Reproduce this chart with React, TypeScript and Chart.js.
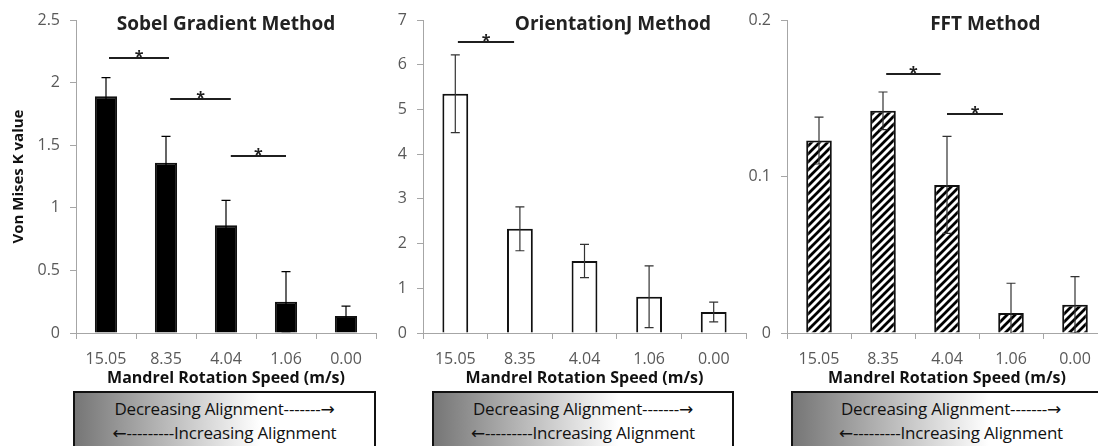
import React, { useEffect, useRef } from 'react';
import { Chart, registerables } from 'chart.js';

Chart.register(...registerables);

// ---------- data ----------
const categories = ['15.05', '8.35', '4.04', '1.06', '0.00'];

const sobelValues = [1.89, 1.36, 0.86, 0.25, 0.135];
const sobelErrors = [0.15, 0.21, 0.2, 0.24, 0.08];
const sobelTicks = [0, 0.5, 1, 1.5, 2, 2.5];
const sobelSigFrom = [0.05, 1.07, 2.08];
const sobelSigTo = [1.05, 2.08, 3.0];
const sobelSigY = [2.2, 1.87, 1.41];

const orientValues = [5.35, 2.33, 1.61, 0.81, 0.47];
const orientErrors = [0.87, 0.49, 0.37, 0.69, 0.22];
const orientTicks = [0, 1, 2, 3, 4, 5, 6, 7];
const orientSigFrom = [0.04];
const orientSigTo = [0.91];
const orientSigY = [6.51];

const fftValues = [0.123, 0.142, 0.0946, 0.0128, 0.018];
const fftErrors = [0.015, 0.012, 0.031, 0.019, 0.018];
const fftTicks = [0, 0.1, 0.2];
const fftSigFrom = [1.05, 2.0];
const fftSigTo = [1.9, 2.875];
const fftSigY = [0.1655, 0.14];

const panelTitles = ['Sobel Gradient Method', 'OrientationJ Method', 'FFT Method'];
const xAxisTitle = 'Mandrel Rotation Speed (m/s)';
const yAxisTitle = 'Von Mises K value';
const boxLine1Text = 'Decreasing Alignment-------';
const boxLine1Arrow = '→';
const boxLine2Arrow = '←';
const boxLine2Text = '---------Increasing Alignment';

// ---------- styles ----------
const FONT = "'Open Sans', 'Liberation Sans', sans-serif";
const AXIS = '#a6a6a6';
const TICK = '#595959';
const DARK = '#1f1f1f';

Chart.defaults.font.family = FONT;

function makeHatch(): CanvasPattern | string {
  const s = 8;
  const c = document.createElement('canvas');
  c.width = s;
  c.height = s;
  const g = c.getContext('2d');
  if (!g) return '#888';
  g.fillStyle = '#fff';
  g.fillRect(0, 0, s, s);
  g.strokeStyle = '#000';
  g.lineWidth = 2.8;
  g.beginPath();
  g.moveTo(-1, s + 1);
  g.lineTo(s + 1, -1);
  g.moveTo(-s / 2 - 1, s / 2 + 1);
  g.lineTo(s / 2 + 1, -s / 2 - 1);
  g.moveTo(s / 2 - 1, s * 1.5 + 1);
  g.lineTo(s * 1.5 + 1, s / 2 - 1);
  g.stroke();
  return g.createPattern(c, 'repeat') || '#888';
}

type PanelSpec = {
  left: number;
  width: number;
  yWidth: number;
  padRight: number;
  values: number[];
  errors: number[];
  ticks: number[];
  sigFrom: number[];
  sigTo: number[];
  sigY: number[];
  title: string;
  titleFrac: number;
  fill: 'black' | 'white' | 'hatch';
  barPct: number;
  yTitle?: string;
};

const CANVAS_H = 392;

function decorPlugin(spec: PanelSpec) {
  return {
    id: 'panelDecor',
    afterDatasetsDraw(chart: any) {
      const ctx: CanvasRenderingContext2D = chart.ctx;
      const area = chart.chartArea;
      const xs = chart.scales.x;
      const ys = chart.scales.y;
      ctx.save();
      ctx.beginPath();
      ctx.rect(area.left, area.top - 30, area.right - area.left, area.bottom - area.top + 30);
      ctx.clip();
      ctx.strokeStyle = spec.fill === 'black' ? '#000' : '#333';
      ctx.lineWidth = 1.2;
      spec.values.forEach((v, i) => {
        const e = spec.errors[i];
        const x = xs.getPixelForValue(i);
        const yTop = ys.getPixelForValue(v + e);
        const yBot = ys.getPixelForValue(v - e);
        ctx.beginPath();
        ctx.moveTo(x, yTop);
        ctx.lineTo(x, yBot);
        ctx.moveTo(x - 4.5, yTop);
        ctx.lineTo(x + 4.5, yTop);
        ctx.moveTo(x - 4.5, yBot);
        ctx.lineTo(x + 4.5, yBot);
        ctx.stroke();
      });
      ctx.restore();
    },
    afterDraw(chart: any) {
      const ctx: CanvasRenderingContext2D = chart.ctx;
      const area = chart.chartArea;
      const xs = chart.scales.x;
      const ys = chart.scales.y;
      ctx.save();
      ctx.strokeStyle = DARK;
      ctx.lineWidth = 2;
      ctx.fillStyle = DARK;
      ctx.font = `bold 16px ${FONT}`;
      ctx.textAlign = 'center';
      ctx.textBaseline = 'alphabetic';
      spec.sigY.forEach((yv, i) => {
        const x1 = xs.getPixelForValue(spec.sigFrom[i]);
        const x2 = xs.getPixelForValue(spec.sigTo[i]);
        const y = Math.round(ys.getPixelForValue(yv));
        ctx.beginPath();
        ctx.moveTo(x1, y);
        ctx.lineTo(x2, y);
        ctx.stroke();
        ctx.fillText('*', (x1 + x2) / 2, y + 4);
      });
      ctx.font = `bold 19px ${FONT}`;
      ctx.fillStyle = '#222';
      ctx.textBaseline = 'middle';
      ctx.fillText(spec.title, area.left + spec.titleFrac * (area.right - area.left), 25);
      ctx.restore();
    },
  };
}

function buildChart(canvas: HTMLCanvasElement, spec: PanelSpec) {
  const hatch = makeHatch();
  const bg = spec.fill === 'black' ? '#000' : spec.fill === 'white' ? '#fff' : hatch;
  return new Chart(canvas, {
    type: 'bar',
    data: {
      labels: categories,
      datasets: [
        {
          data: spec.values,
          backgroundColor: bg as any,
          borderColor: '#111',
          borderWidth: 2,
          barPercentage: spec.barPct,
          categoryPercentage: 1,
        },
      ],
    },
    options: {
      responsive: false,
      animation: false,
      layout: { padding: { top: 20, right: spec.padRight, left: 0, bottom: 0 } },
      plugins: {
        legend: { display: false },
        tooltip: { enabled: false },
        title: { display: false },
      },
      scales: {
        x: {
          type: 'category',
          offset: true,
          grid: {
            display: true,
            drawOnChartArea: false,
            drawTicks: true,
            tickLength: 6,
            color: AXIS,
            offset: true,
          },
          border: { display: true, color: AXIS, width: 1 },
          ticks: { color: TICK, font: { size: 16 }, padding: 11, maxRotation: 0, autoSkip: false },
          title: {
            display: true,
            text: xAxisTitle,
            color: '#111',
            font: { size: 16, weight: 'bold' },
            padding: { top: 0, bottom: 4 },
          },
          afterFit: (s: any) => {
            s.height = CANVAS_H - 333;
          },
        },
        y: {
          min: spec.ticks[0],
          max: spec.ticks[spec.ticks.length - 1],
          afterBuildTicks: (s: any) => {
            s.ticks = spec.ticks.map((v) => ({ value: v }));
          },
          grid: {
            display: true,
            drawOnChartArea: false,
            drawTicks: true,
            tickLength: 6,
            color: AXIS,
          },
          border: { display: true, color: AXIS, width: 1 },
          ticks: {
            color: TICK,
            font: { size: 16 },
            padding: 10,
            callback: (v: any) => String(v),
          },
          title: {
            display: !!spec.yTitle,
            text: spec.yTitle || '',
            color: '#111',
            font: { size: 15, weight: 'bold' },
            padding: { top: 10, bottom: 0 },
          },
          afterFit: (s: any) => {
            s.width = spec.yWidth;
          },
        },
      },
    },
    plugins: [decorPlugin(spec) as any],
  });
}

const panels: PanelSpec[] = [
  {
    left: 0,
    width: 380,
    yWidth: 76,
    padRight: 4,
    values: sobelValues,
    errors: sobelErrors,
    ticks: sobelTicks,
    sigFrom: sobelSigFrom,
    sigTo: sobelSigTo,
    sigY: sobelSigY,
    title: panelTitles[0],
    titleFrac: 0.5,
    fill: 'black',
    barPct: 0.37,
    yTitle: yAxisTitle,
  },
  {
    left: 380,
    width: 370,
    yWidth: 43,
    padRight: 4,
    values: orientValues,
    errors: orientErrors,
    ticks: orientTicks,
    sigFrom: orientSigFrom,
    sigTo: orientSigTo,
    sigY: orientSigY,
    title: panelTitles[1],
    titleFrac: 0.588,
    fill: 'white',
    barPct: 0.4,
  },
  {
    left: 730,
    width: 381,
    yWidth: 57,
    padRight: 4,
    values: fftValues,
    errors: fftErrors,
    ticks: fftTicks,
    sigFrom: fftSigFrom,
    sigTo: fftSigTo,
    sigY: fftSigY,
    title: panelTitles[2],
    titleFrac: 0.62,
    fill: 'hatch',
    barPct: 0.4,
  },
];

const boxes = [
  { left: 73, width: 303 },
  { left: 432, width: 302 },
  { left: 791, width: 320 },
];

const ARROW_FONT = "'DejaVu Sans', sans-serif";

export default function App() {
  const refs = [
    useRef<HTMLCanvasElement>(null),
    useRef<HTMLCanvasElement>(null),
    useRef<HTMLCanvasElement>(null),
  ];

  useEffect(() => {
    const charts = panels.map((p, i) => buildChart(refs[i].current as HTMLCanvasElement, p));
    return () => charts.forEach((c) => c.destroy());
  }, []);

  return (
    <div
      style={{
        position: 'absolute',
        left: 0,
        top: 0,
        width: 1098,
        height: 446,
        overflow: 'hidden',
        background: '#fff',
        fontFamily: FONT,
      }}
    >
      {panels.map((p, i) => (
        <canvas
          key={i}
          ref={refs[i]}
          width={p.width}
          height={CANVAS_H}
          style={{ position: 'absolute', left: p.left, top: 0, width: p.width, height: CANVAS_H }}
        />
      ))}
      {boxes.map((b, i) => (
        <div
          key={i}
          style={{
            position: 'absolute',
            left: b.left,
            top: 391,
            width: b.width,
            height: 80,
            boxSizing: 'border-box',
            border: '2px solid #111',
            background: 'linear-gradient(to right, #767676 0%, #ffffff 62%, #ffffff 100%)',
            textAlign: 'center',
            fontSize: 17,
            lineHeight: '24px',
            paddingTop: 4,
            color: '#111',
            whiteSpace: 'nowrap',
            letterSpacing: '-0.2px',
          }}
        >
          <div>
            {boxLine1Text}
            <span style={{ fontFamily: ARROW_FONT }}>{boxLine1Arrow}</span>
          </div>
          <div>
            <span style={{ fontFamily: ARROW_FONT }}>{boxLine2Arrow}</span>
            {boxLine2Text}
          </div>
        </div>
      ))}
    </div>
  );
}
